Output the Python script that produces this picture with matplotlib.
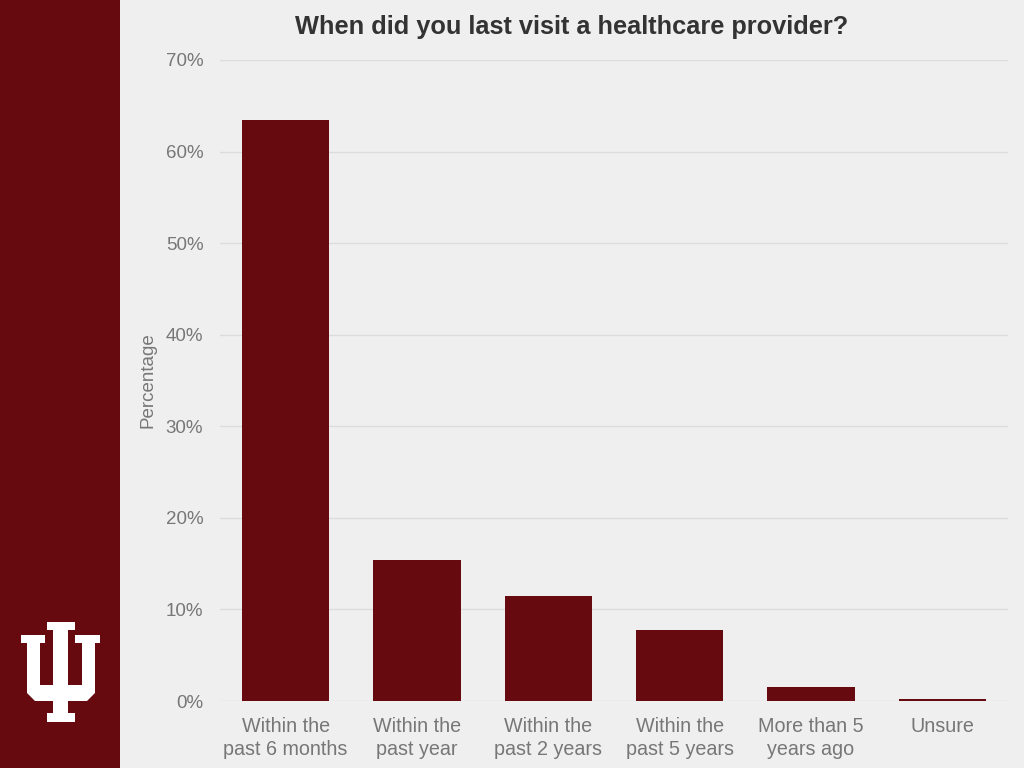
import matplotlib
matplotlib.use("Agg")
import matplotlib.pyplot as plt
from matplotlib.patches import Rectangle, Polygon
from matplotlib.ticker import FuncFormatter

plt.rcParams['font.family'] = ['Liberation Sans', 'DejaVu Sans']

# data
categories = ["Within the\npast 6 months", "Within the\npast year", "Within the\npast 2 years",
              "Within the\npast 5 years", "More than 5\nyears ago", "Unsure"]
percentages = [63.4, 15.4, 11.5, 7.7, 1.5, 0.2]
y_ticks = [0, 10, 20, 30, 40, 50, 60, 70]

crimson = "#660a0f"
bg = "#efefef"
W, H = 1024, 768

fig = plt.figure(figsize=(10.24, 7.68), dpi=100, facecolor=bg)

# sidebar with the trident logo
fig.add_artist(Rectangle((0, 0), 120 / W, 1, transform=fig.transFigure,
                         facecolor=crimson, edgecolor="none", zorder=0))
logo_px = [(47, 622), (75, 622), (75, 630), (68, 630), (68, 685), (82, 685), (82, 643),
           (75, 643), (75, 635), (100, 635), (100, 643), (95, 643), (95, 693), (87, 701),
           (68, 701), (68, 713), (75, 713), (75, 722), (47, 722), (47, 713), (53, 713),
           (53, 701), (35, 701), (27, 693), (27, 643), (21, 643), (21, 635), (45, 635),
           (45, 643), (40, 643), (40, 685), (53, 685), (53, 630), (47, 630)]
logo = [(x / W, 1 - y / H) for x, y in logo_px]
fig.add_artist(Polygon(logo, closed=True, transform=fig.transFigure,
                       facecolor="white", edgecolor="none", zorder=1))

ax = fig.add_axes([220 / W, 1 - 701 / H, 788 / W, 641 / H])
ax.set_facecolor(bg)

x = range(len(categories))
ax.bar(x, percentages, width=0.665, color=crimson, zorder=3)

ax.set_xlim(-0.5, len(categories) - 0.5)
ax.set_ylim(0, 70)
ax.set_yticks(y_ticks)
ax.yaxis.set_major_formatter(FuncFormatter(lambda v, p: f"{v:.0f}%"))
ax.set_xticks(list(x))
ax.set_xticklabels(categories, linespacing=1.3)

ax.grid(axis="y", color="#dcdcdc", linewidth=1, zorder=0)
ax.set_axisbelow(True)
for s in ax.spines.values():
    s.set_visible(False)
ax.tick_params(axis="y", length=0, labelsize=13.5, colors="#777777", pad=12)
ax.tick_params(axis="x", length=0, labelsize=14.2, colors="#777777", pad=11.5)

ax.set_ylabel("Percentage", fontsize=13.5, color="#777777")
ax.yaxis.set_label_coords(-0.08, 0.5)

fig.text(572 / W, 1 - 27 / H, "When did you last visit a healthcare provider?",
         ha="center", va="center", fontsize=18.3, fontweight="bold", color="#333333")

fig.savefig("out.png", dpi=100, facecolor=bg)
